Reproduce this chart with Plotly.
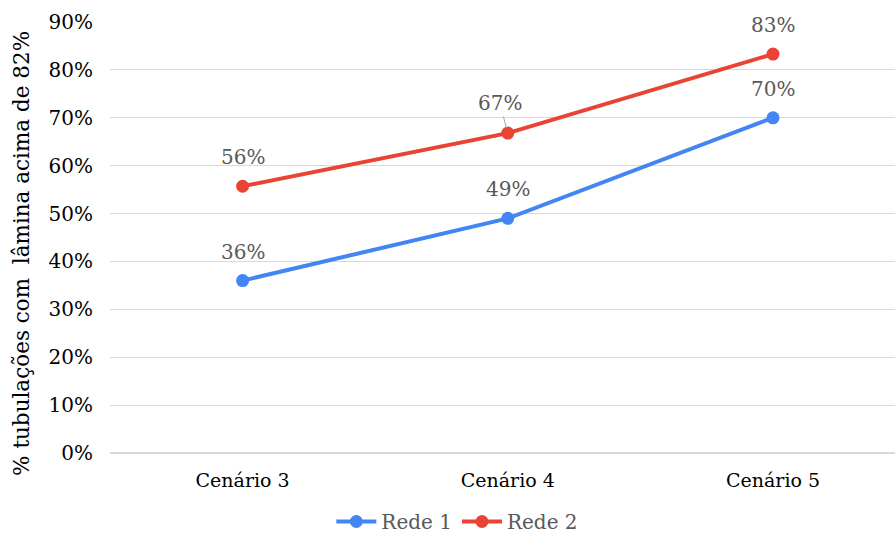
import plotly.graph_objects as go

categories = ["Cenário 3", "Cenário 4", "Cenário 5"]
rede1 = [0.36, 0.49, 0.70]
rede2 = [0.557, 0.668, 0.833]
labels1 = ["36%", "49%", "70%"]
labels2 = ["56%", "67%", "83%"]
yticks = [0, 0.1, 0.2, 0.3, 0.4, 0.5, 0.6, 0.7, 0.8, 0.9]
ytitle = "% tubulações com  lâmina acima de 82%"

FONT = "DejaVu Serif"
BLUE = "#4285F4"
RED = "#EA4335"
GREY = "#595959"

fig = go.Figure()
fig.add_trace(go.Scatter(x=categories, y=rede1, name="Rede 1", mode="lines+markers",
                         line=dict(color=BLUE, width=4), marker=dict(size=13, color=BLUE)))
fig.add_trace(go.Scatter(x=categories, y=rede2, name="Rede 2", mode="lines+markers",
                         line=dict(color=RED, width=4), marker=dict(size=13, color=RED)))

lab_font = dict(family=FONT, size=20, color=GREY)
anns = []
for c, v, t in zip(categories, rede1, labels1):
    anns.append(dict(x=c, y=v, text=t, showarrow=False, yshift=29, font=lab_font))
for i, (c, v, t) in enumerate(zip(categories, rede2, labels2)):
    if i == 1:
        anns.append(dict(x=c, y=v, text=t, showarrow=True, arrowhead=0, arrowwidth=1,
                         arrowcolor="#A6A6A6", ax=-8, ay=-30, standoff=5, font=lab_font))
    else:
        anns.append(dict(x=c, y=v, text=t, showarrow=False, yshift=29, font=lab_font))

anns.append(dict(xref="paper", yref="paper", x=0, y=0.462, xshift=-88, text=ytitle,
                 textangle=-90, showarrow=False, xanchor="center", yanchor="middle",
                 font=dict(family=FONT, size=21.5, color="black")))

fig.update_layout(
    width=895, height=541,
    margin=dict(l=110, r=0, t=22, b=88),
    paper_bgcolor="white", plot_bgcolor="white",
    font=dict(family=FONT, size=20, color="black"),
    annotations=anns,
    showlegend=True,
    legend=dict(orientation="h", x=0.511, xanchor="center", xref="container",
                y=-0.02, yanchor="bottom", yref="container",
                font=dict(family=FONT, size=20, color=GREY), itemwidth=40),
    xaxis=dict(type="category", range=[-0.5, 2.46], showgrid=False, showline=False,
               ticks="", automargin=False, ticklabelstandoff=14,
               tickfont=dict(family=FONT, size=19, color="black")),
    yaxis=dict(range=[0, 0.9], tickvals=yticks, tickformat=".0%", showgrid=True,
               gridcolor="#D9D9D9", gridwidth=1, zeroline=True, zerolinecolor="#D9D9D9",
               showline=False, ticks="", automargin=False, ticklabelstandoff=16,
               tickfont=dict(family=FONT, size=20, color="black")),
)

fig.write_html("out.html")
